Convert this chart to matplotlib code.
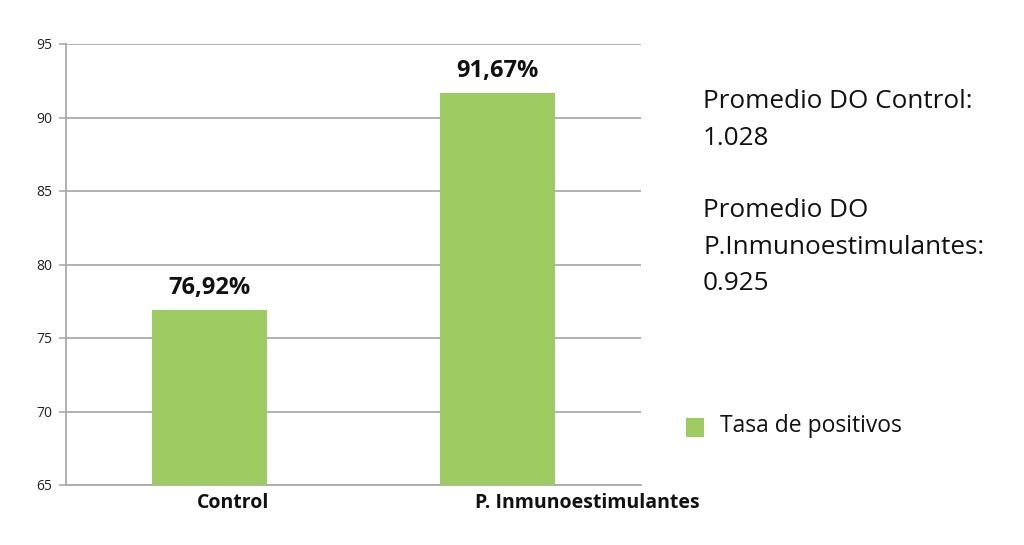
import matplotlib
matplotlib.use("Agg")
import matplotlib.pyplot as plt
from matplotlib.patches import Rectangle
from matplotlib.transforms import offset_copy

plt.rcParams['font.family'] = ['Open Sans', 'DejaVu Sans']

categories = ["Control", "P. Inmunoestimulantes"]
values = [76.92, 91.67]
value_labels = ["76,92%", "91,67%"]
series_name = "Tasa de positivos"
yticks = [65, 70, 75, 80, 85, 90, 95]
side_lines = ["Promedio DO Control:", "1.028", "", "Promedio DO", "P.Inmunoestimulantes:", "0.925"]

bar_color = "#9ecb61"
grid_color = "#ababab"

fig = plt.figure(figsize=(10.24, 5.45), dpi=100)
ax = fig.add_axes([66/1024, 1-485/545, 575/1024, 441/545])

x = list(range(len(categories)))
ax.bar(x, values, width=0.4, color=bar_color, zorder=3)
ax.set_xlim(-0.5, 1.5)
ax.set_ylim(65, 95)
ax.set_yticks(yticks)
ax.set_yticklabels([str(t) for t in yticks], fontsize=10, color="#222222")
ax.set_xticks(x)
ax.set_xticklabels([])
ax.tick_params(axis='x', length=0)
ax.tick_params(axis='y', length=5, width=1.2, color=grid_color, pad=5)
ax.grid(axis='y', color=grid_color, linewidth=1.3, zorder=0)
for s in ["top", "right"]:
    ax.spines[s].set_visible(False)
for s in ["left", "bottom"]:
    ax.spines[s].set_color(grid_color)
    ax.spines[s].set_linewidth(1.3)

# category labels (left-aligned slightly left of bar centre, as in the reference)
trans = ax.get_xaxis_transform()
for xi, cat in zip(x, categories):
    ax.text(xi, 0, cat, transform=offset_copy(trans, fig=fig, x=-13 - 9 * xi, y=-18, units='dots'),
            ha="left", va="center", fontsize=14, fontweight="bold", color="#111111")

for xi, v, lab in zip(x, values, value_labels):
    ax.annotate(lab, (xi, v), xytext=(0, 16), textcoords="offset points",
                ha="center", va="center", fontsize=17, fontweight="bold", color="#111111")

y0 = 102
for i, line in enumerate(side_lines):
    if line:
        fig.text(703/1024, 1-(y0 + i*36.3)/545, line, fontsize=18.8, va="center", ha="left", color="#111111")

# legend
fig.patches.append(Rectangle((686/1024, 1-437/545), 18/1024, 19/545, transform=fig.transFigure,
                             facecolor=bar_color, edgecolor="none"))
fig.text(720/1024, 1-426/545, series_name, fontsize=16.5, va="center", ha="left", color="#111111")

fig.savefig("out.png", dpi=100)
